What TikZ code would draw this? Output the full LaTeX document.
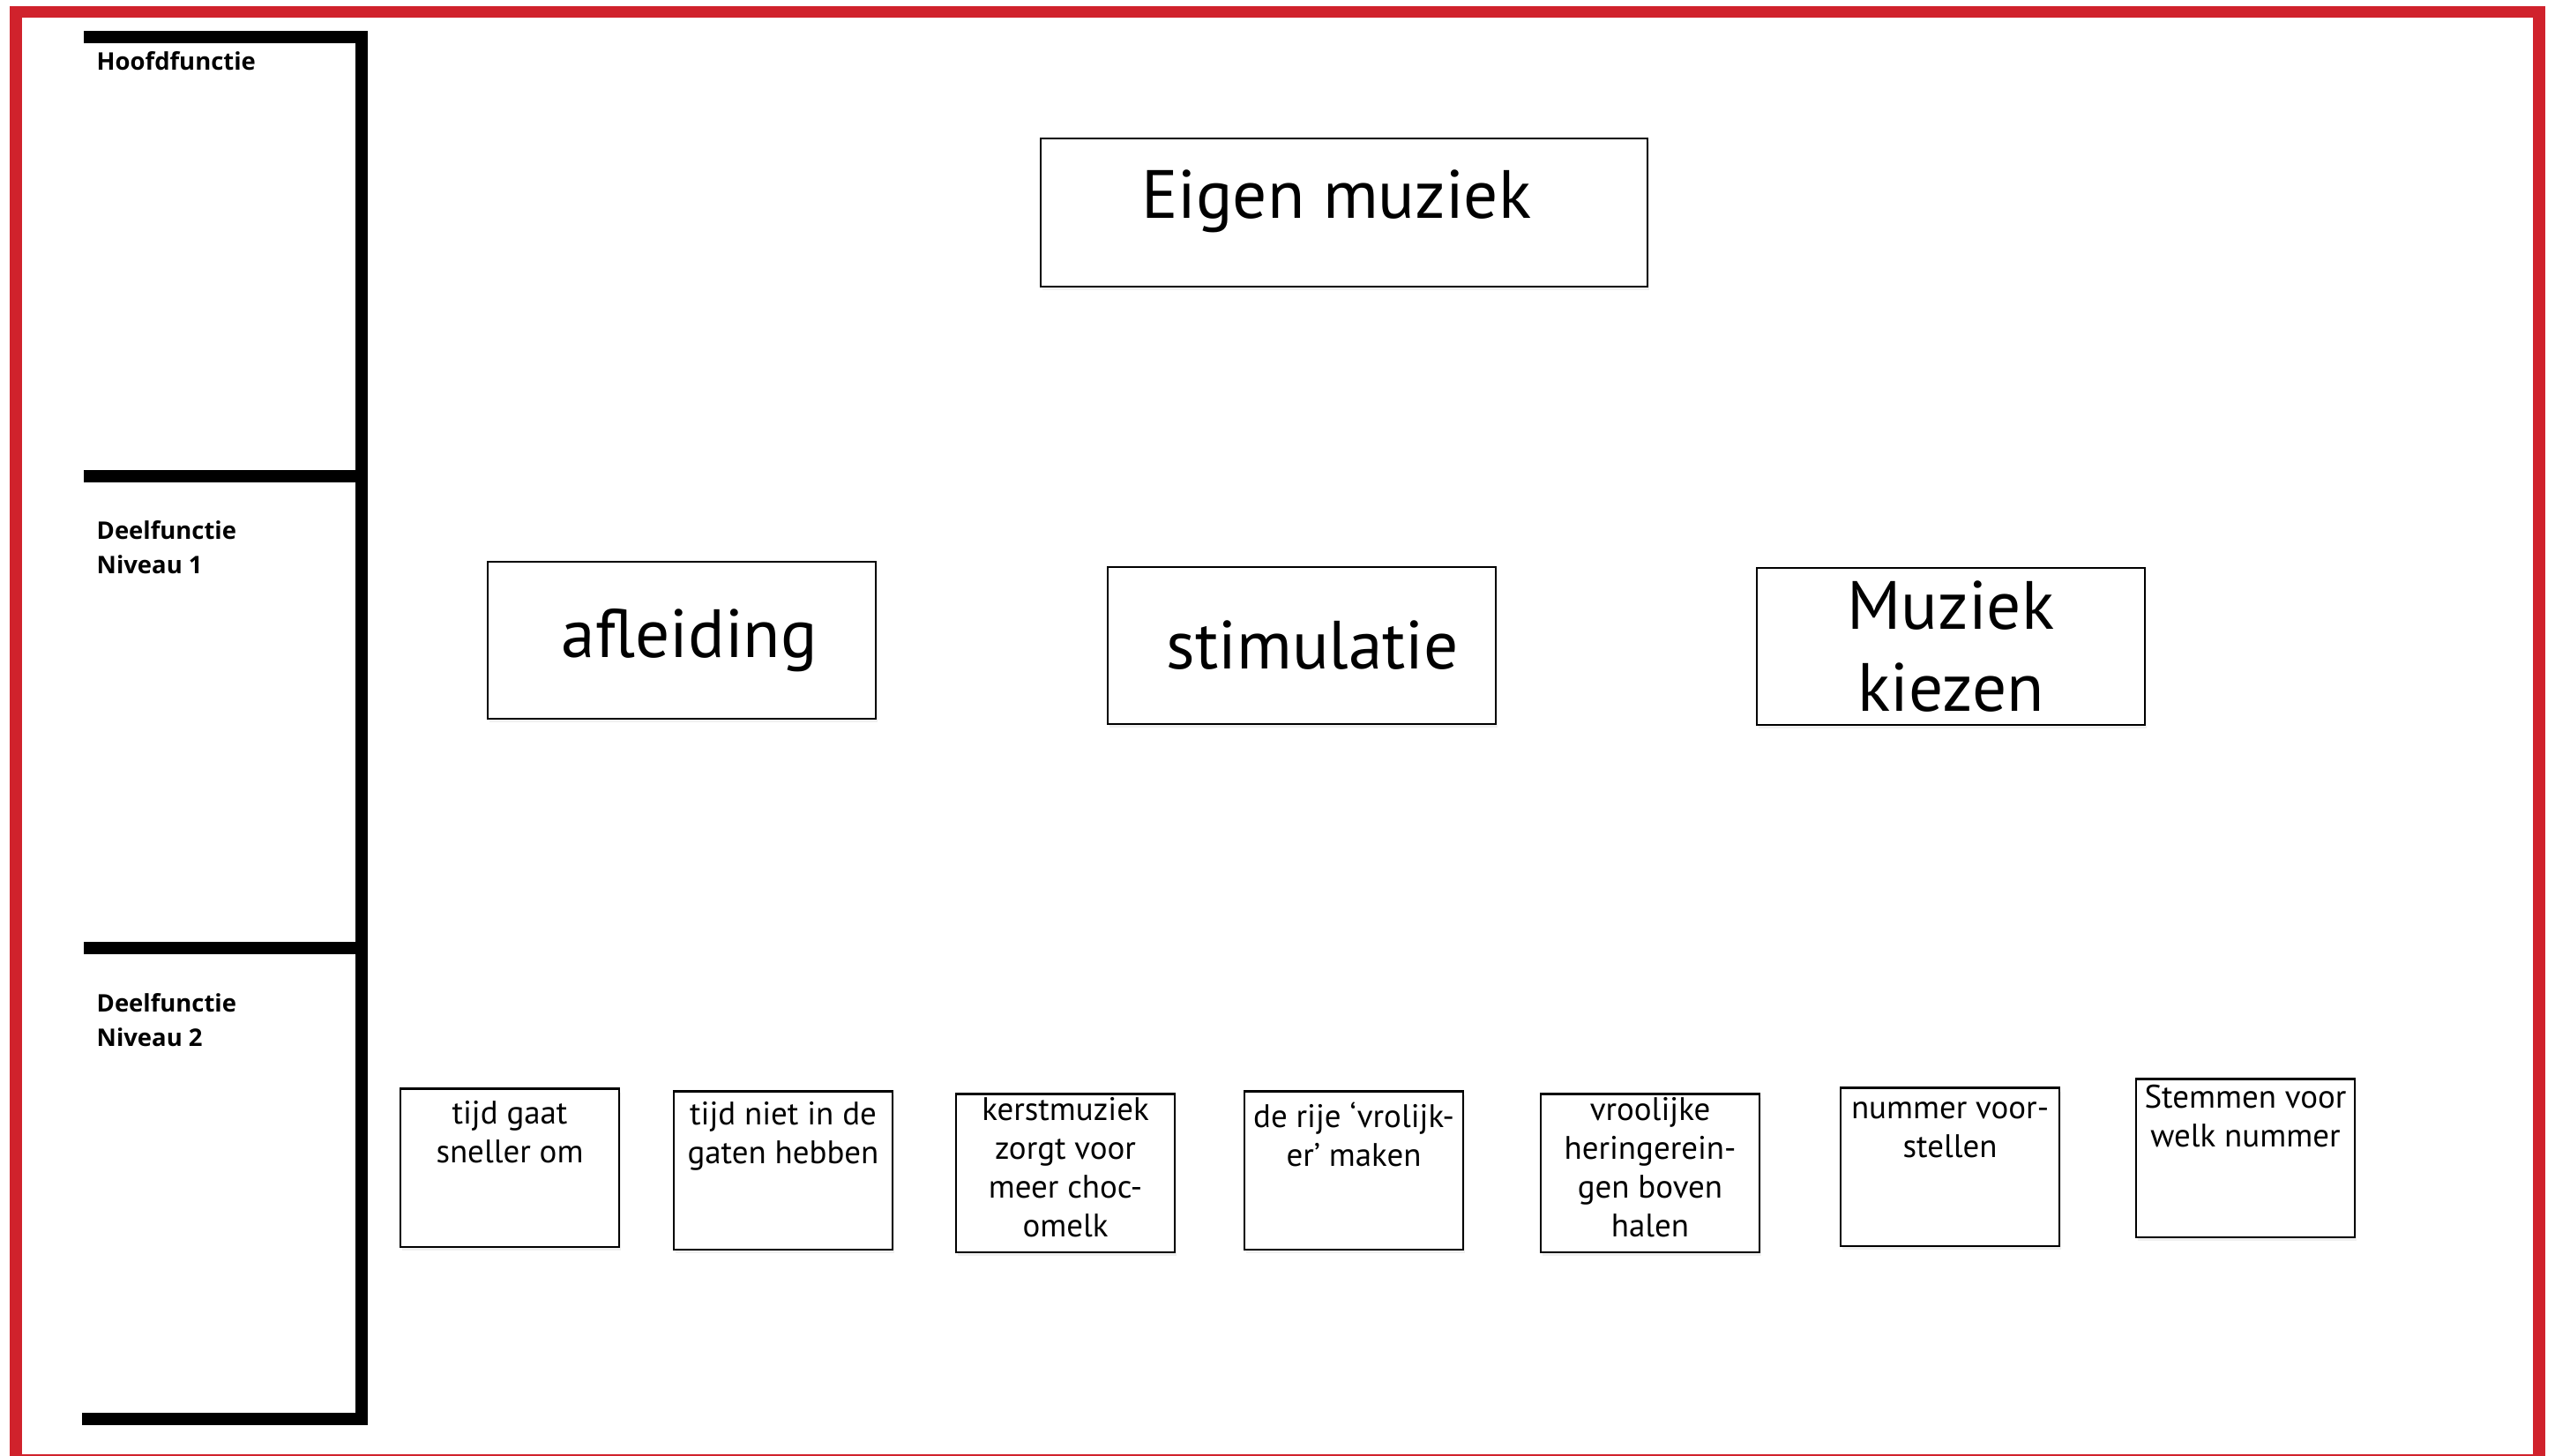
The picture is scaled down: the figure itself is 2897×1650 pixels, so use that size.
\documentclass[tikz,border=0pt]{standalone}
\usepackage{fontspec}
\setmainfont{PT Sans}
\newfontfamily\labelfont{Open Sans}
\usetikzlibrary{positioning, shadows}
\definecolor{borderred}{RGB}{208,34,44}

\tikzset{
  funcbox/.style={draw=black, line width=0.6pt, fill=white, inner sep=0pt,
    drop shadow={opacity=0.12, shadow xshift=0.6pt, shadow yshift=-1.2pt}},
  bigbox/.style={funcbox, minimum width=4.40cm, minimum height=1.78cm, align=center,
    font=\fontsize{22}{26.5}\selectfont},
  smallbox/.style={funcbox},
  levellabel/.style={anchor=north west, align=left, inner sep=0pt,
    font=\labelfont\bfseries\fontsize{7.8}{11}\selectfont},
  bracket/.style={line width=4pt}
}
\newcommand{\boxtext}[2]{\parbox[c][1.79cm][t]{2.48cm}{\centering\fontsize{10.5}{12.5}\selectfont\vspace*{#1}#2}}

\begin{document}
\begin{tikzpicture}[x=0.01cm, y=-0.01cm]
\useasboundingbox (0,0) rectangle (2897,1650);
% frame and level bracket
\draw[borderred, line width=3.8pt] (18,13.5) rectangle (2879,1656);
\draw[bracket] (95,42) -| (410,1609) -- (93,1609);
\draw[bracket] (95,540) -- (410,540);
\draw[bracket] (95,1075) -- (410,1075);
\node[levellabel] (lvl0) at (109,58) {Hoofdfunctie};
\node[levellabel] (lvl1) at (109,590) {Deelfunctie\\Niveau 1};
\node[levellabel] (lvl2) at (109,1126) {Deelfunctie\\Niveau 2};
% main function
\node[bigbox, minimum width=6.87cm, minimum height=1.68cm, text depth=12pt] (main) at (1524,241) {Eigen muziek\hspace{5pt}};
% level 1
\node[bigbox] (afl) at (773,726) {\hspace{5pt}afleiding};
\node[bigbox] (stim) at (1476,732) {\hspace{7pt}stimulatie};
\node[bigbox] (kies) at (2212,733) {Muziek\\kiezen};
% level 2
\node[smallbox] (tijd) at (578,1324) {\boxtext{4pt}{tijd gaat\\sneller om}};
\node[smallbox] (gaten) at (888,1327) {\boxtext{3.5pt}{tijd niet in de\\gaten hebben}};
\node[smallbox] (kerst) at (1208,1330) {\boxtext{1pt}{kerstmuziek\\zorgt voor\\meer choc-\\omelk}};
\node[smallbox] (rij) at (1535,1327) {\boxtext{3.5pt}{de rije ‘vrolijk-\\er’ maken}};
\node[smallbox] (haring) at (1871,1330) {\boxtext{1pt}{vroolijke\\heringerein-\\gen boven\\halen}};
\node[smallbox] (voor) at (2211,1323) {\boxtext{4.5pt}{nummer voor-\\stellen}};
\node[smallbox] (stem) at (2546,1313) {\boxtext{2pt}{Stemmen voor\\welk nummer}};
\end{tikzpicture}
\end{document}
